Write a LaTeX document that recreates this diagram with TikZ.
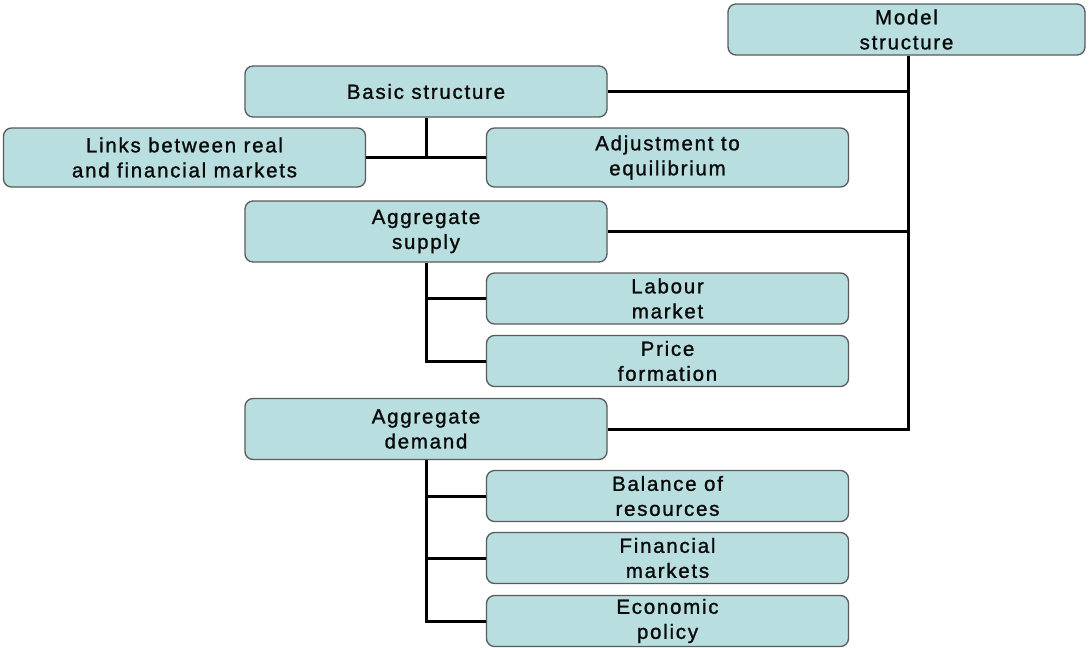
\documentclass[tikz,border=0pt]{standalone}
\usepackage{fontspec}
\setmainfont[LetterSpace=8.5,FakeBold=1.2]{Liberation Sans}
\definecolor{boxfill}{RGB}{184,222,224}
\definecolor{boxline}{RGB}{90,90,90}
\definecolor{txt}{RGB}{10,10,10}
\tikzset{
  box/.style={draw=boxline, fill=boxfill, rounded corners=8pt, line width=1.3pt,
    align=center, text=txt, inner sep=0pt,
    font=\fontsize{20.5}{25}\selectfont},
  low/.style={text depth=0pt, yshift=0pt},
  wide/.style={minimum width=362pt},
  conn/.style={line width=3pt, draw=black}
}
\begin{document}
\begin{tikzpicture}[x=1pt,y=-1pt]
\useasboundingbox (0,0) rectangle (1090,648);
\node[box, minimum width=357pt, minimum height=51pt] (model) at (906.5,29.5) {Model\\structure};
\node[box, wide, minimum height=51pt] (basic) at (426,91.5) {Basic structure};
\node[box, wide, minimum height=59pt] (links) at (184.5,157.5) {Links between real\\and financial markets};
\node[box, wide, minimum height=59pt] (adj) at (667.5,157.5) {Adjustment to\\equilibrium};
\node[box, wide, minimum height=61pt] (supply) at (426,231.5) {Aggregate\\supply};
\node[box, wide, minimum height=51pt] (labour) at (667.5,298.5) {Labour\\market};
\node[box, wide, minimum height=51pt] (price) at (667.5,361) {Price\\formation};
\node[box, wide, minimum height=61pt] (demand) at (426,429) {Aggregate\\demand};
\node[box, wide, minimum height=51pt] (balance) at (667.5,496) {Balance of\\resources};
\node[box, wide, minimum height=51pt] (financial) at (667.5,558) {Financial\\markets};
\node[box, wide, minimum height=51pt] (policy) at (667.5,621) {Economic\\policy};
\coordinate (tk) at (908,429);
\draw[conn] (model.south -| tk) -- (tk) -- (demand.east);
\draw[conn] (basic.east) -- (basic.east -| tk);
\draw[conn] (supply.east) -- (supply.east -| tk);
\draw[conn] (basic.south) -- (basic.south |- links.east);
\draw[conn] (links.east) -- (adj.west);
\draw[conn] (supply.south) -- (supply.south |- price.west) -- (price.west);
\draw[conn] (supply.south |- labour.west) -- (labour.west);
\draw[conn] (demand.south) -- (demand.south |- policy.west) -- (policy.west);
\draw[conn] (demand.south |- balance.west) -- (balance.west);
\draw[conn] (demand.south |- financial.west) -- (financial.west);
\end{tikzpicture}
\end{document}
